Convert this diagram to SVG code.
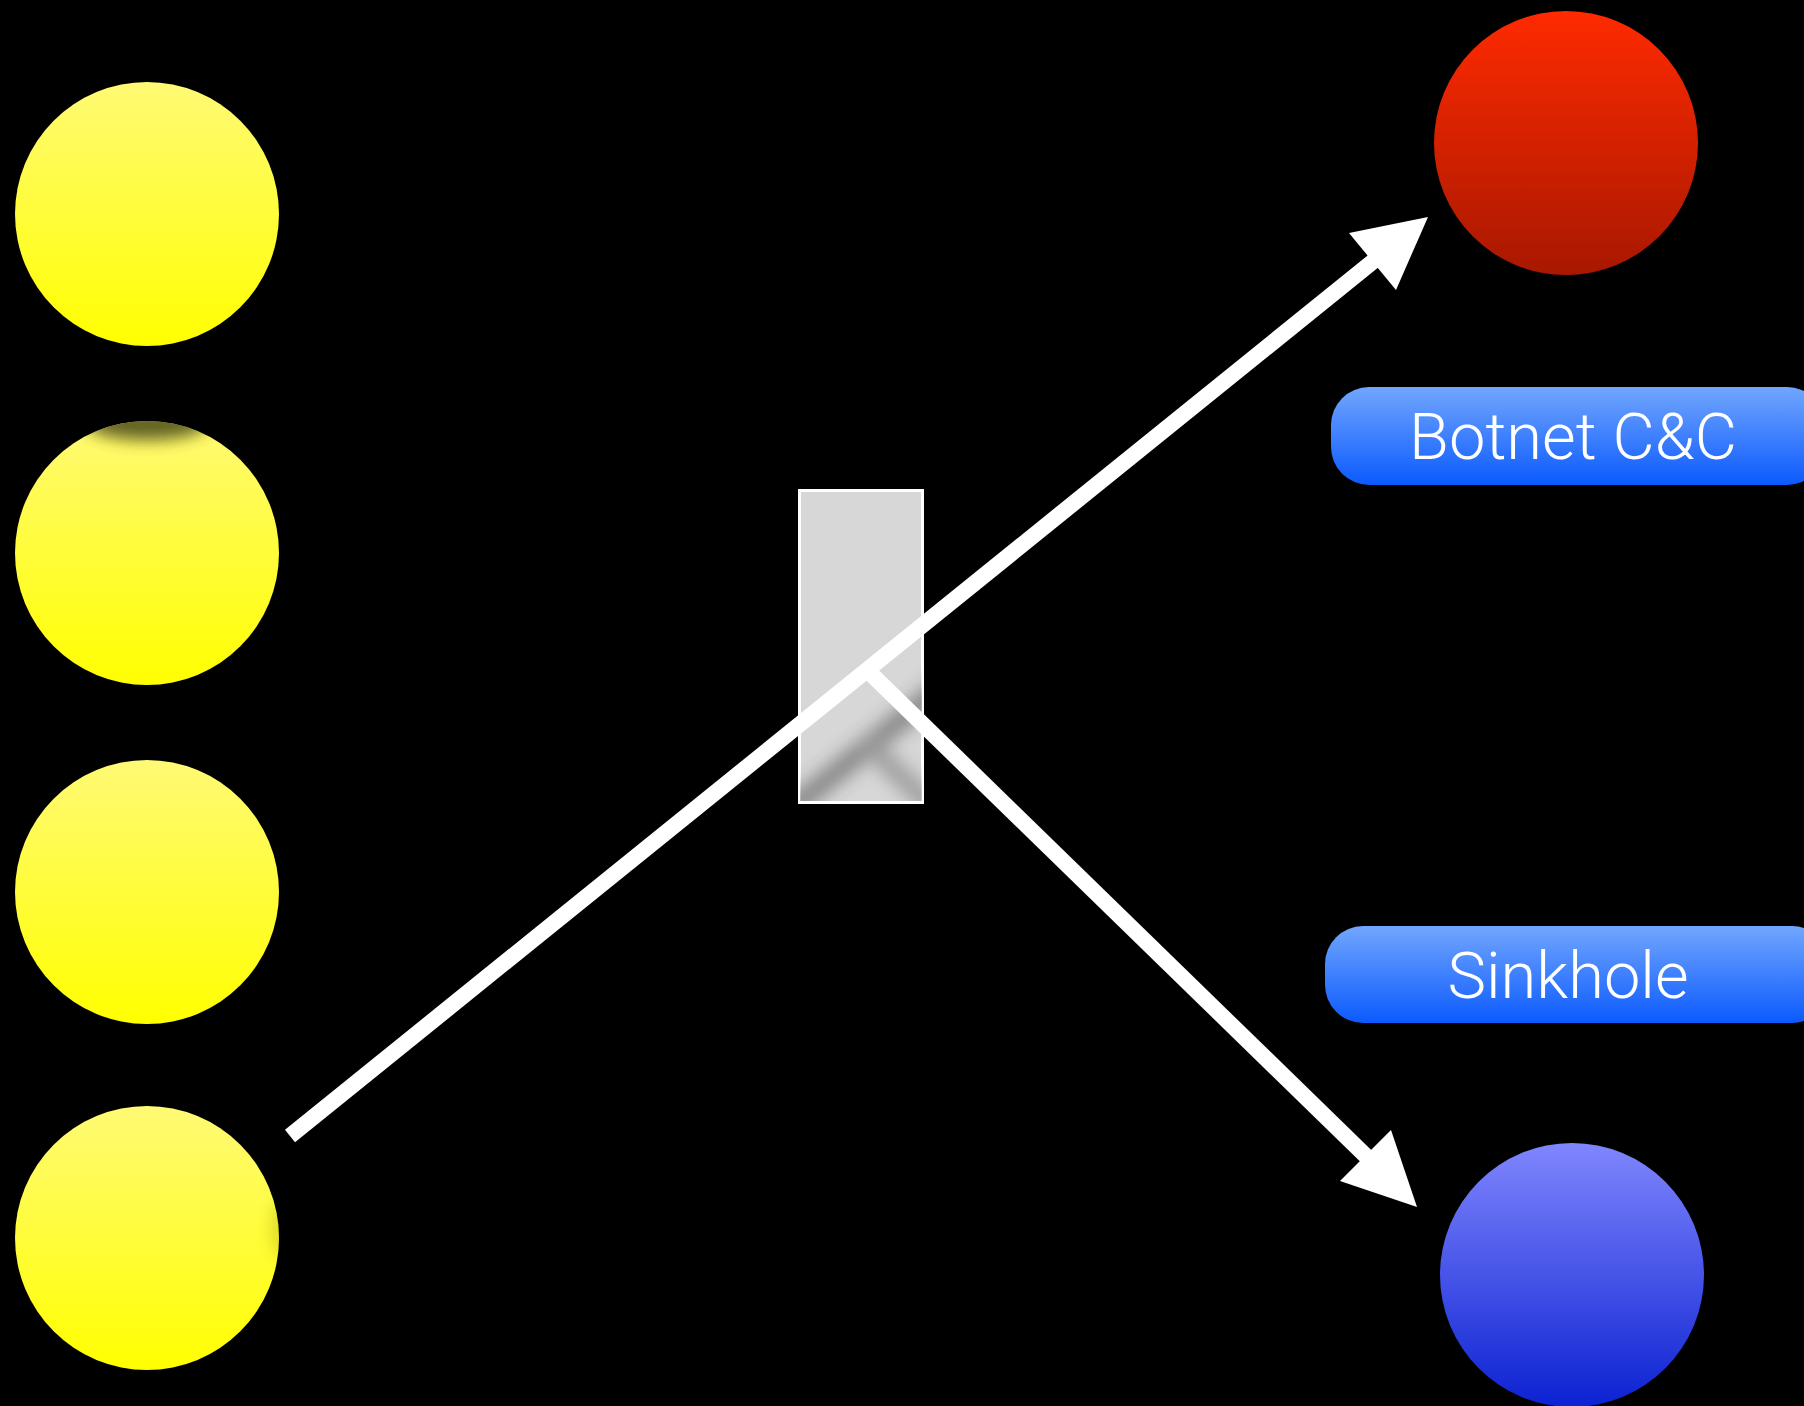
<svg xmlns="http://www.w3.org/2000/svg" width="1804" height="1406" viewBox="0 0 1804 1406">
<defs>
<linearGradient id="gY" x1="0" y1="0" x2="0" y2="1"><stop offset="0" stop-color="#fffa74"/><stop offset="1" stop-color="#ffff00"/></linearGradient>
<linearGradient id="gR" x1="0" y1="0" x2="0" y2="1"><stop offset="0" stop-color="#ff2a00"/><stop offset="1" stop-color="#a81800"/></linearGradient>
<linearGradient id="gB" x1="0" y1="0" x2="0" y2="1"><stop offset="0" stop-color="#8086fe"/><stop offset="1" stop-color="#0c22d2"/></linearGradient>
<linearGradient id="gBtn" x1="0" y1="0" x2="0" y2="1"><stop offset="0" stop-color="#72a6fd"/><stop offset="1" stop-color="#0b5afd"/></linearGradient>
<filter id="blur8" x="-50%" y="-50%" width="200%" height="200%"><feGaussianBlur stdDeviation="8"/></filter>
<filter id="blur6" x="-50%" y="-50%" width="200%" height="200%"><feGaussianBlur stdDeviation="9"/></filter>
<clipPath id="c2"><circle cx="147" cy="553" r="132"/></clipPath>
<clipPath id="c4"><circle cx="147" cy="1238" r="132"/></clipPath>
<clipPath id="cRect"><rect x="800" y="491" width="122" height="310"/></clipPath>
<style>
.yel{fill:url(#gY)}
.btn{fill:url(#gBtn)}
.lbl{font-family:Roboto,Inter,"Liberation Sans",sans-serif;font-weight:300;font-size:65px;fill:#ffffff;text-anchor:middle}
.conn{stroke:#ffffff;stroke-width:16;fill:none;stroke-linecap:butt}
.head{fill:#ffffff}
</style>
</defs>
<rect x="0" y="0" width="1804" height="1406" fill="#000000"/>

<g id="client1"><circle class="yel" cx="147" cy="214" r="132"/></g>
<g id="client2"><circle class="yel" cx="147" cy="553" r="132"/>
<ellipse cx="147" cy="424" rx="60" ry="16" fill="#3a3a10" opacity="0.8" filter="url(#blur8)" clip-path="url(#c2)"/></g>
<g id="client3"><circle class="yel" cx="147" cy="892" r="132"/></g>
<g id="client4"><circle class="yel" cx="147" cy="1238" r="132"/>
<ellipse cx="285" cy="1228" rx="14" ry="30" fill="#a0a000" opacity="0.35" filter="url(#blur8)" clip-path="url(#c4)"/></g>

<g id="cc"><circle cx="1566" cy="143" r="132" fill="url(#gR)"/></g>
<g id="sinkhole"><circle cx="1572" cy="1275" r="132" fill="url(#gB)"/></g>

<g id="dns">
<rect x="799.5" y="490.5" width="123" height="312" fill="#d7d7d7" stroke="#ffffff" stroke-width="3"/>
<g clip-path="url(#cRect)" filter="url(#blur6)" opacity="0.5">
<line x1="290" y1="1214" x2="1375" y2="337" stroke="#333333" stroke-width="20"/>
<line x1="870" y1="746" x2="1000" y2="873" stroke="#666666" stroke-width="20"/>
</g>
</g>

<g id="label-cc"><rect class="btn" x="1331" y="387" width="494" height="98" rx="38"/><text class="lbl" x="1573" y="459">Botnet C&amp;C</text></g>
<g id="label-sinkhole"><rect class="btn" x="1325" y="926" width="505" height="97" rx="38"/><text class="lbl" x="1568" y="998">Sinkhole</text></g>

<g id="connectors">
<line class="conn" x1="290" y1="1136" x2="1376" y2="259"/>
<polygon class="head" points="1428,217 1349,233 1396,290"/>
<line class="conn" x1="866" y1="669" x2="1368" y2="1158"/>
<polygon class="head" points="1417,1207 1340,1181 1391,1130"/>
</g>
</svg>
